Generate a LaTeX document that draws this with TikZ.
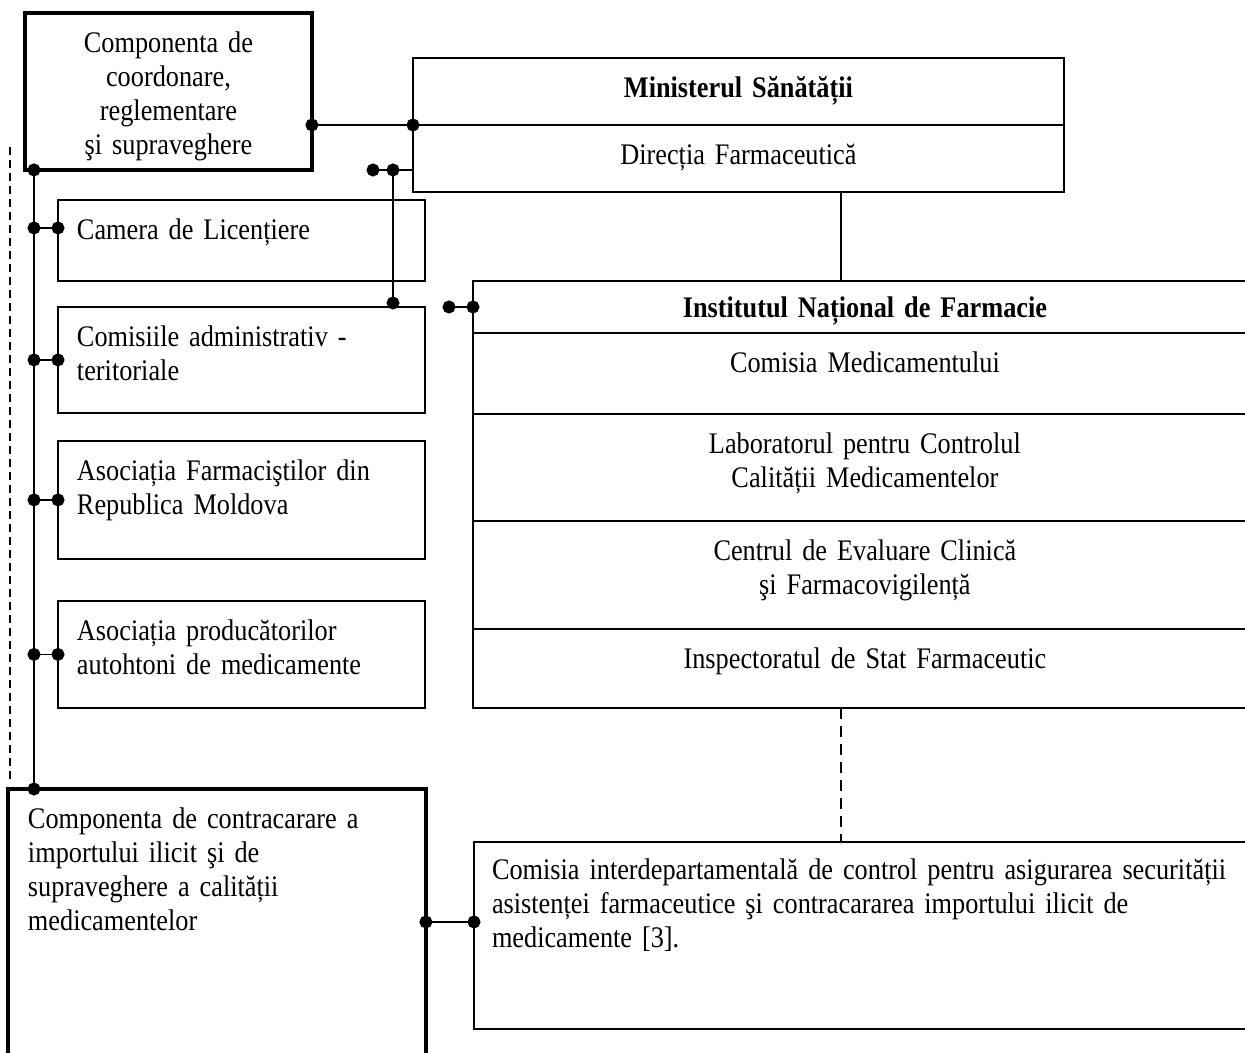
\documentclass[tikz,border=0pt]{standalone}
\usepackage{fontspec}
\setmainfont{Liberation Serif}[FakeStretch=0.88]
\usepackage{tikz}
\usetikzlibrary{positioning, arrows.meta}

\newcommand{\boxfont}{\fontsize{17}{19.2}\selectfont}

\begin{document}
\begin{tikzpicture}[x=0.02cm, y=-0.02cm, line width=1pt,
                    dotline/.style={{Circle[length=0.26cm]}-{Circle[length=0.26cm]},
                                    shorten <=-0.13cm, shorten >=-0.13cm}]
\tikzstyle{box}=[draw, rectangle, outer sep=0pt, inner ysep=0pt, text height=0.8cm]
\tikzstyle{cbox}=[box, align=center, inner xsep=0.2cm]
\tikzstyle{lbox}=[box, align=left, inner xsep=0.38cm, text width=6.58cm]
\tikzset{font=\boxfont}

\useasboundingbox (0,0) rectangle (1245,1053);
\clip (0,0) rectangle (1245,1053);

        % coordination component
        \node[cbox, line width=1.8pt, text width=5.34cm, text depth=2.34cm, anchor=north west] (cc) at (25,13) {Componenta de\\ coordonare,\\ reglementare\\ şi supraveghere};

        % ministry
        \node[cbox, text width=12.62cm, text depth=0.54cm, anchor=north west] (ms) at (413,58) {\textbf{Ministerul Sănătății}};
        \node[cbox, text width=12.62cm, text depth=0.54cm, below=0pt of ms] (df) {Direcția Farmaceutică};

        % institute
        \node[cbox, text width=15.28cm, text height=0.74cm, text depth=0.3cm, anchor=north west] (inf) at (473,281) {\textbf{Institutul Național de Farmacie}};
        \node[cbox, text width=15.28cm, text depth=0.82cm, below=0pt of inf] (cm) {Comisia Medicamentului};
        \node[cbox, text width=15.28cm, text depth=1.34cm, below=0pt of cm] (lab) {Laboratorul pentru Controlul\\ Calității Medicamentelor};
        \node[cbox, text width=15.28cm, text depth=1.36cm, below=0pt of lab] (cev) {Centrul de Evaluare Clinică\\ şi Farmacovigilență};
        \node[cbox, text width=15.28cm, text depth=0.78cm, below=0pt of cev] (isf) {Inspectoratul de Stat Farmaceutic};

        % left column
        \node[lbox, text depth=0.82cm, anchor=north west] (cl) at (58,200) {Camera de Licențiere};
        \node[lbox, text depth=1.32cm, below=0.52cm of cl] (ca) {Comisiile administrativ -\\ teritoriale};
        \node[lbox, text depth=1.56cm, below=0.56cm of ca] (af) {Asociația Farmaciştilor din\\ Republica Moldova};
        \node[lbox, text depth=1.34cm, below=0.84cm of af] (ap) {Asociația producătorilor\\ autohtoni de medicamente};

        % illicit import component
        \node[box, line width=1.8pt, align=left, inner xsep=0.4cm, text width=7.56cm, text depth=5.2cm, anchor=north west] (cbot) at (8,789) {Componenta de contracarare a\\ importului ilicit şi de\\ supraveghere a calității\\ medicamentelor};
        \node[box, align=left, inner xsep=0.36cm, text width=15.2cm, text height=0.76cm, text depth=2.98cm, anchor=north west] (cic) at (474,842) {Comisia interdepartamentală de control pentru asigurarea securității\\ asistenței farmaceutice şi contracararea importului ilicit de\\ medicamente [3].};

        \coordinate (sp) at (34,0);
        \coordinate (v) at (841,0);
        \coordinate (j1) at (373,170);
        \coordinate (j2) at (393,170);
        \coordinate (j3) at (393,303);
        \coordinate (j4) at (449,307);
        \coordinate (d1) at (10,147);
        \coordinate (d2) at (10,779);
        \coordinate (k) at ([yshift=0.25cm]cl.west);
        \coordinate (k2) at ([yshift=-2.66cm]cbot.north east);

        \draw[dotline] (cc.east |- ms.south west) -- (ms.south west);
        \draw[dotline] (j1) -- (j2);
        \draw (j2) -- (j2 -| df.west);
        \draw[-{Circle[length=0.26cm]}, shorten >=-0.13cm] (j2) -- (j3);
        \draw[dotline] (j4) -- (inf.west);
        \draw (v |- df.south) -- (v |- inf.north);
        \draw[dash pattern=on 0.22cm off 0.14cm] (v |- isf.south) -- (v |- cic.north);
        \draw[dash pattern=on 0.16cm off 0.1cm] (d1) -- (d2);

        \path[dotline]
        (sp |- cc.south)  edge  (sp |- cbot.north)
        (sp |- k)         edge  (k)
        (sp |- ca.west)   edge  (ca.west)
        (sp |- af.west)   edge  (af.west)
        (sp |- ap.west)   edge  (ap.west)
        (k2)              edge  (k2 -| cic.west)
        ; %end path

\end{tikzpicture}
\end{document}
